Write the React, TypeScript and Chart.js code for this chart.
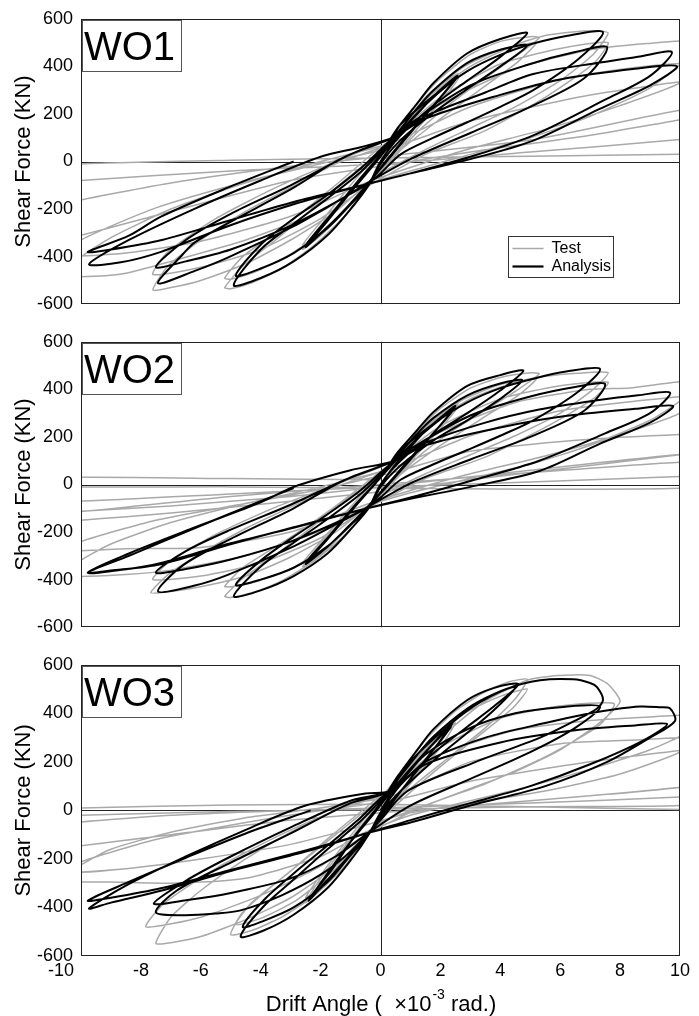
import React, { useEffect, useRef } from "react";
import { Chart, registerables } from "chart.js";

Chart.register(...registerables);

type Pt = [number, number];

const xTicks = [-10, -8, -6, -4, -2, 0, 2, 4, 6, 8, 10];
const yTicks = [-600, -400, -200, 0, 200, 400, 600];
const panelLabels = ["WO1", "WO2", "WO3"];
const seriesNames = ["Test", "Analysis"];

const wo1Analysis: Pt[] = [
  [0, 0], [0.6, 110], [1.3, 210], [1.9, 290], [2.57, 360],
  [1.9, 255], [1.1, 140], [0.3, 20], [-0.4, -90], [-1.1, -190], [-1.8, -280], [-2.5, -360],
  [-1.8, -255], [-1.0, -130], [-0.2, -10], [0.5, 100], [1.2, 200], [1.9, 285], [2.5, 345],
  [1.8, 240], [1.0, 120], [0.2, 0], [-0.5, -105], [-1.2, -205], [-1.9, -290], [-2.45, -345],
  [-1.7, -230], [-0.8, -90], [0.0, 30],
  [0.57, 140], [1.2, 240], [1.77, 330], [2.9, 455], [4.0, 515], [4.9, 540],
  [4.0, 440], [2.9, 340], [1.77, 236], [0.67, 110], [0.0, 0], [-0.4, -100],
  [-0.9, -185], [-1.77, -310], [-2.9, -420], [-4.0, -490], [-4.9, -520],
  [-4.0, -370], [-2.9, -262], [-1.77, -155], [-0.67, -45], [0.0, 40], [0.5, 110],
  [1.2, 220], [1.77, 300], [2.9, 415], [4.0, 470], [4.9, 488],
  [4.0, 400], [2.9, 305], [1.77, 205], [0.67, 90], [0.0, -10], [-0.4, -100],
  [-1.0, -180], [-1.77, -280], [-2.9, -385], [-4.0, -450], [-4.83, -480],
  [-4.0, -350], [-2.9, -240], [-1.77, -140], [-0.67, -30], [0.0, 50], [0.4, 100],
  [0.67, 156], [1.77, 276], [2.9, 380], [4.0, 448], [5.1, 496], [6.2, 528], [7.43, 544],
  [6.6, 430], [5.1, 300], [4.0, 230], [2.9, 165], [1.77, 100], [0.67, 30], [0.0, -50], [-0.5, -100],
  [-1.23, -152], [-2.9, -272], [-5.1, -404], [-6.2, -460], [-7.43, -512],
  [-6.6, -390], [-6.2, -340], [-5.1, -260], [-2.9, -110], [-1.5, 0], [-0.67, 48], [0.4, 100],
  [1.0, 160], [3.0, 320], [5.0, 410], [6.5, 460], [7.57, 480],
  [6.8, 350], [5.0, 230], [3.0, 120], [1.0, 10], [-0.5, -95],
  [-1.2, -150], [-3.0, -270], [-5.0, -370], [-6.5, -420], [-7.5, -444],
  [-6.5, -330], [-5.0, -220], [-3.0, -100], [-1.0, 30], [0.4, 100],
  [1.5, 190], [3.5, 290], [5.1, 368], [7.33, 416], [8.6, 440], [9.73, 460],
  [9.0, 360], [7.5, 260], [5.1, 110], [3.0, 20], [1.0, -50], [-0.6, -100],
  [-2.9, -180], [-5.1, -272], [-7.33, -380], [-8.67, -424], [-9.73, -432],
  [-8.4, -330], [-6.23, -200], [-4.0, -80], [-2.0, 20], [-0.67, 60], [0.4, 100],
  [1.5, 180], [4.0, 280], [6.0, 345], [8.5, 390], [9.9, 400],
  [9.0, 320], [7.3, 220], [5.1, 88], [3.0, 10], [1.0, -50], [-0.6, -100],
  [-2.9, -170], [-5.1, -250], [-7.3, -330], [-9.0, -370], [-9.77, -380],
  [-8.4, -312], [-7.33, -232], [-5.1, -110], [-2.9, 0],
];

const wo1Test: Pt[] = [
  [0, 0], [0.6, 120], [1.3, 230], [2.0, 320], [2.6, 370],
  [2.0, 270], [1.2, 150], [0.3, 20], [-0.4, -100], [-1.2, -210], [-1.9, -300], [-2.6, -370],
  [-2.0, -270], [-1.2, -150], [-0.3, -10], [0.5, 110], [1.3, 220], [2.0, 300], [2.6, 350],
  [2.0, 250], [1.1, 120], [0.2, -10], [-0.5, -115], [-1.3, -220], [-2.0, -300], [-2.6, -350],
  [-1.9, -240], [-1.0, -100], [-0.2, 20], [0.5, 120],
  [1.2, 240], [2.0, 350], [3.0, 450], [4.0, 505], [5.0, 525], [5.3, 520],
  [4.6, 450], [3.6, 360], [2.4, 250], [1.2, 120], [0.2, -20], [-0.5, -120],
  [-1.2, -230], [-2.2, -350], [-3.3, -450], [-4.3, -510], [-5.0, -535], [-5.2, -530],
  [-4.6, -440], [-3.5, -330], [-2.3, -200], [-1.1, -70], [0, 40], [0.5, 110],
  [1.5, 270], [2.8, 400], [4.0, 470], [4.9, 495], [5.2, 498],
  [4.6, 420], [3.3, 300], [1.9, 170], [0.6, 40], [-0.5, -110],
  [-1.5, -250], [-3.0, -390], [-4.2, -465], [-5.0, -495], [-5.2, -490],
  [-4.6, -400], [-3.1, -260], [-1.6, -110], [-0.2, 40], [0.5, 110],
  [1.5, 260], [3.0, 400], [4.5, 490], [5.5, 530], [6.4, 545], [7.1, 550], [7.6, 540],
  [7.1, 450], [6.0, 340], [4.5, 230], [3.0, 140], [1.5, 50], [0.0, -50], [-0.6, -110],
  [-1.5, -210], [-3.0, -330], [-4.5, -430], [-6.0, -500], [-7.0, -530], [-7.6, -540],
  [-7.1, -440], [-6.0, -330], [-4.5, -210], [-3.0, -110], [-1.5, -10], [0.0, 60], [0.5, 110],
  [2.0, 270], [4.0, 410], [6.0, 475], [7.6, 500],
  [7.1, 410], [5.5, 270], [3.5, 130], [1.5, 30], [-0.5, -110],
  [-2.0, -240], [-4.0, -370], [-6.0, -445], [-7.6, -475],
  [-7.1, -380], [-5.5, -240], [-3.5, -110], [-1.5, 0], [0.4, 100],
  [2.0, 240], [4.5, 390], [7.0, 470], [8.9, 496], [10.5, 505],
  [10.2, 430], [9.0, 310], [7.0, 190], [5.0, 100], [3.0, 30], [1.0, -40], [-0.5, -100],
  [-2.0, -210], [-4.5, -330], [-7.0, -420], [-8.5, -470], [-9.5, -482], [-10.5, -480],
  [-10.2, -420], [-9.0, -320], [-7.0, -200], [-4.5, -90], [-2.0, 0], [0.4, 80],
  [3.0, 230], [6.0, 345], [8.5, 395], [10.5, 410],
  [10.0, 330], [8.0, 235], [5.5, 135], [3.0, 55], [1.0, -25], [-0.5, -90],
  [-3.0, -230], [-6.0, -335], [-8.5, -385], [-10.5, -395],
  [-10.0, -330], [-7.5, -195], [-4.5, -85], [-2.0, -10], [0.4, 60],
  [3.0, 170], [7.0, 280], [11.0, 350], [15.0, 380],
  [14.0, 290], [11.0, 200], [7.0, 110], [3.0, 40], [0.0, -20], [-3.0, -80],
  [-7.0, -210], [-11.0, -340], [-15.0, -400],
  [-14.0, -320], [-11.0, -190], [-7.0, -90], [-3.0, -20], [0.0, 20],
  [5.0, 90], [10.0, 216], [15.0, 300], [20.0, 320],
  [19.0, 240], [15.0, 160], [10.0, 92], [5.0, 40], [0.0, -10], [-5.0, -40], [-10.0, -80], [-15.0, -130], [-20.0, -170],
  [-19.0, -110], [-15.0, -50], [-10.0, -10], [-5.0, 5], [0.0, 15], [5.0, 22], [10.0, 30], [20.0, 50],
];

const wo2Analysis: Pt[] = [
  [0, 0], [0.6, 100], [1.3, 200], [1.9, 270], [2.5, 330],
  [1.9, 235], [1.1, 125], [0.3, 10], [-0.4, -90], [-1.1, -180], [-1.8, -265], [-2.5, -334],
  [-1.8, -235], [-1.0, -115], [-0.2, 0], [0.5, 100], [1.2, 190], [1.9, 265], [2.45, 318],
  [1.8, 220], [1.0, 105], [0.2, -10], [-0.5, -105], [-1.2, -195], [-1.9, -275], [-2.45, -322],
  [-1.7, -215], [-0.8, -80], [0.0, 30],
  [0.57, 135], [1.2, 225], [1.77, 305], [2.9, 415], [4.0, 460], [4.77, 478],
  [4.0, 395], [2.9, 300], [1.77, 210], [0.67, 100], [0.0, 0], [-0.4, -100],
  [-0.9, -175], [-1.77, -290], [-2.9, -385], [-4.0, -445], [-4.9, -470],
  [-4.0, -345], [-2.9, -245], [-1.77, -145], [-0.67, -40], [0.0, 40], [0.5, 110],
  [1.2, 210], [1.77, 280], [2.9, 375], [4.0, 425], [4.73, 438],
  [4.0, 360], [2.9, 270], [1.77, 185], [0.67, 80], [0.0, -10], [-0.4, -100],
  [-1.0, -170], [-1.77, -260], [-2.9, -350], [-4.0, -400], [-4.83, -422],
  [-4.0, -320], [-2.9, -220], [-1.77, -125], [-0.67, -25], [0.0, 50], [0.43, 98],
  [0.67, 145], [1.77, 255], [2.9, 345], [4.0, 405], [5.1, 445], [6.2, 475], [7.33, 486],
  [6.6, 390], [5.1, 270], [4.0, 205], [2.9, 145], [1.77, 85], [0.67, 20], [0.0, -55], [-0.5, -100],
  [-1.23, -150], [-2.9, -260], [-5.1, -380], [-6.2, -425], [-7.43, -450],
  [-6.6, -340], [-5.1, -235], [-2.9, -100], [-1.5, 0], [-0.67, 45], [0.43, 98],
  [1.0, 150], [3.0, 290], [5.0, 370], [6.5, 410], [7.5, 422],
  [6.8, 310], [5.0, 200], [3.0, 105], [1.0, 5], [-0.5, -100],
  [-1.2, -145], [-3.0, -240], [-5.0, -315], [-6.5, -355], [-7.5, -370],
  [-6.5, -280], [-5.0, -190], [-3.0, -85], [-1.0, 30], [0.43, 98],
  [1.5, 175], [3.5, 260], [5.3, 315], [7.3, 355], [8.6, 375], [9.67, 386],
  [9.0, 300], [7.5, 215], [5.3, 100], [3.0, 15], [1.0, -55], [-0.6, -105],
  [-2.9, -182], [-5.1, -250], [-7.33, -330], [-8.7, -360], [-9.77, -370],
  [-8.4, -290], [-6.23, -182], [-4.0, -75], [-2.9, -10], [-1.0, 60], [0.43, 98],
  [1.5, 165], [4.0, 240], [6.0, 285], [8.5, 318], [9.77, 330],
  [9.0, 260], [7.3, 170], [5.33, 58], [3.0, -10], [1.0, -60], [-0.6, -105],
  [-2.9, -180], [-5.1, -255], [-7.33, -335], [-9.0, -362], [-9.77, -370],
  [-8.4, -300], [-6.23, -185], [-4.0, -70], [-2.9, -15],
];

const wo2Test: Pt[] = [
  [0, 0], [0.6, 110], [1.3, 215], [2.0, 300], [2.6, 345],
  [2.0, 250], [1.2, 135], [0.3, 10], [-0.4, -95], [-1.2, -200], [-1.9, -285], [-2.6, -345],
  [-2.0, -250], [-1.2, -135], [-0.3, -5], [0.5, 105], [1.3, 205], [2.0, 285], [2.6, 330],
  [2.0, 235], [1.1, 110], [0.2, -15], [-0.5, -110], [-1.3, -210], [-2.0, -285], [-2.6, -330],
  [-1.9, -225], [-1.0, -95], [-0.2, 20], [0.5, 110],
  [1.2, 220], [2.0, 320], [3.0, 405], [4.0, 450], [5.0, 470], [5.3, 465],
  [4.6, 400], [3.6, 320], [2.4, 225], [1.2, 110], [0.2, -20], [-0.5, -115],
  [-1.2, -215], [-2.2, -320], [-3.3, -405], [-4.3, -455], [-5.0, -475], [-5.2, -470],
  [-4.6, -395], [-3.5, -295], [-2.3, -180], [-1.1, -60], [0, 40], [0.5, 105],
  [1.5, 245], [2.8, 360], [4.0, 420], [4.9, 440], [5.2, 442],
  [4.6, 375], [3.3, 270], [1.9, 155], [0.6, 35], [-0.5, -105],
  [-1.5, -235], [-3.0, -355], [-4.2, -410], [-5.0, -430], [-5.2, -428],
  [-4.6, -350], [-3.1, -230], [-1.6, -100], [-0.2, 35], [0.5, 105],
  [1.5, 240], [3.0, 360], [4.5, 430], [5.5, 455], [6.6, 468], [7.6, 470],
  [7.1, 400], [6.0, 300], [4.5, 205], [3.0, 125], [1.5, 45], [0.0, -50], [-0.6, -110],
  [-1.5, -200], [-3.0, -305], [-4.5, -385], [-6.0, -430], [-7.0, -450], [-7.67, -455],
  [-7.1, -380], [-6.0, -290], [-4.5, -185], [-3.0, -95], [-1.5, -10], [0.0, 55], [0.5, 105],
  [2.0, 245], [4.0, 360], [6.0, 415], [7.6, 430],
  [7.1, 360], [5.5, 240], [3.5, 115], [1.5, 25], [-0.5, -105],
  [-2.0, -225], [-4.0, -330], [-6.0, -385], [-7.6, -400],
  [-7.1, -330], [-5.5, -210], [-3.5, -95], [-1.5, 0], [0.4, 95],
  [2.0, 220], [4.5, 345], [7.0, 400], [8.33, 406], [10.5, 435],
  [10.2, 370], [9.0, 270], [7.0, 165], [5.0, 85], [3.0, 25], [1.0, -35], [-0.5, -95],
  [-2.0, -195], [-4.5, -300], [-7.0, -360], [-8.5, -378], [-10.5, -385],
  [-10.2, -334], [-9.0, -250], [-7.0, -160], [-4.5, -80], [-2.0, -10], [0.4, 70],
  [3.0, 205], [6.0, 310], [8.5, 350], [10.5, 370],
  [10.0, 300], [8.0, 210], [5.5, 120], [3.0, 45], [1.0, -25], [-0.5, -85],
  [-3.0, -200], [-6.0, -265], [-8.5, -270], [-10.5, -278],
  [-10.0, -240], [-7.5, -150], [-4.5, -80], [-2.0, -20], [0.4, 50],
  [3.0, 140], [7.0, 190], [11.0, 215], [15.0, 230],
  [14.0, 180], [11.0, 140], [7.0, 80], [3.0, 20], [0.0, -30], [-3.0, -70],
  [-7.0, -120], [-11.0, -158], [-15.0, -180],
  [-14.0, -140], [-11.0, -120], [-7.0, -90], [-3.0, -50], [0.0, -10],
  [5.0, 60], [10.0, 126], [15.0, 160], [20.0, 170],
  [19.0, 130], [15.0, 110], [10.0, 94], [5.0, 50], [0.0, 0], [-5.0, -50], [-10.0, -114], [-15.0, -150], [-20.0, -170],
  [-19.0, -110], [-15.0, -80], [-10.0, -70], [-5.0, -40], [0.0, -10], [5.0, 10], [10.0, 34], [20.0, 60],
  [15.0, 20], [10.0, -16], [5.0, -20], [0.0, -15], [-5.0, -10], [-10.0, -10], [-15.0, 10], [-10.0, 30], [-5.0, 25], [0.0, 20],
];

const wo3Analysis: Pt[] = [
  [0, 0], [0.6, 110], [1.3, 210], [1.9, 295], [2.4, 360],
  [1.8, 255], [1.0, 130], [0.3, 20], [-0.4, -95], [-1.1, -195], [-1.8, -290], [-2.4, -372],
  [-1.8, -265], [-1.0, -130], [-0.2, -10], [0.5, 100], [1.2, 200], [1.8, 280], [2.35, 345],
  [1.7, 240], [0.9, 115], [0.2, 0], [-0.5, -110], [-1.2, -210], [-1.8, -295], [-2.35, -360],
  [-1.6, -240], [-0.8, -95], [0.0, 30],
  [0.57, 140], [1.2, 245], [1.77, 335], [2.9, 455], [3.8, 505], [4.6, 520],
  [3.8, 430], [2.9, 345], [1.77, 236], [0.67, 105], [0.0, -10], [-0.4, -100],
  [-0.9, -190], [-1.77, -320], [-2.9, -430], [-3.9, -495], [-4.67, -520],
  [-3.9, -395], [-2.9, -285], [-1.77, -160], [-0.67, -45], [0.0, 40], [0.4, 100],
  [1.2, 225], [1.77, 305], [2.9, 420], [3.8, 480], [4.5, 508],
  [3.8, 415], [2.9, 320], [1.77, 205], [0.67, 80], [0.0, -15], [-0.4, -100],
  [-1.0, -185], [-1.77, -295], [-2.9, -400], [-3.9, -455], [-4.6, -480],
  [-3.9, -370], [-2.9, -260], [-1.77, -145], [-0.67, -30], [0.0, 50], [0.33, 80],
  [0.9, 188], [2.0, 320], [3.1, 428], [4.2, 500], [5.33, 536], [6.43, 540], [7.0, 525], [7.23, 508], [7.43, 456], [7.23, 420],
  [6.5, 370], [5.33, 300], [3.1, 196], [0.9, 80], [0.0, -40], [-0.4, -92],
  [-1.0, -170], [-2.0, -265], [-3.3, -350], [-4.67, -412], [-5.5, -425], [-6.57, -432], [-7.5, -420],
  [-6.8, -330], [-5.0, -215], [-3.0, -95], [-1.0, 30], [0.33, 80],
  [1.5, 230], [3.0, 340], [4.5, 400], [6.0, 425], [7.33, 428],
  [6.5, 340], [5.0, 240], [3.0, 130], [1.0, 20], [-0.4, -92],
  [-1.5, -190], [-3.0, -280], [-5.0, -340], [-6.5, -370], [-7.57, -384],
  [-6.5, -290], [-5.0, -190], [-3.0, -70], [-1.0, 40], [0.33, 80],
  [1.5, 200], [3.5, 300], [5.5, 360], [7.0, 400], [7.77, 416], [8.67, 428], [9.3, 425], [9.67, 420], [9.83, 368],
  [9.0, 300], [7.57, 200], [5.5, 100], [3.0, 20], [1.0, -50], [-0.4, -92],
  [-2.5, -170], [-5.0, -250], [-7.3, -330], [-9.0, -380], [-9.73, -404],
  [-8.5, -310], [-6.5, -190], [-4.5, -80], [-2.5, 20], [-0.5, 70], [0.33, 80],
  [1.5, 190], [4.0, 280], [6.5, 330], [8.5, 350], [9.57, 356],
  [8.8, 290], [7.0, 190], [5.0, 100], [3.0, 30], [1.0, -40], [-0.4, -92],
  [-2.5, -165], [-5.0, -245], [-7.3, -320], [-9.0, -360], [-9.77, -372],
  [-8.5, -300], [-6.5, -195], [-4.5, -95], [-2.33, 0],
];

const wo3Test: Pt[] = [
  [0, 0], [0.6, 125], [1.3, 240], [2.0, 330], [2.5, 380],
  [2.0, 280], [1.2, 150], [0.3, 15], [-0.4, -100], [-1.2, -215], [-1.9, -310], [-2.5, -380],
  [-2.0, -280], [-1.2, -150], [-0.3, -10], [0.5, 110], [1.3, 225], [2.0, 310], [2.5, 360],
  [2.0, 260], [1.1, 125], [0.2, -10], [-0.5, -115], [-1.3, -225], [-2.0, -310], [-2.5, -360],
  [-1.9, -250], [-1.0, -105], [-0.2, 20], [0.6, 140],
  [1.5, 290], [2.5, 410], [3.5, 490], [4.3, 530], [4.9, 540],
  [4.5, 460], [3.5, 340], [2.3, 220], [1.0, 90], [0.0, -30], [-0.5, -110],
  [-1.2, -230], [-2.2, -350], [-3.3, -440], [-4.3, -495], [-5.0, -512],
  [-4.6, -420], [-3.5, -300], [-2.2, -170], [-1.0, -50], [0.0, 50], [0.5, 110],
  [1.5, 260], [2.8, 400], [4.0, 470], [4.9, 500],
  [4.4, 420], [3.2, 300], [1.8, 160], [0.5, 20], [-0.5, -105],
  [-1.5, -240], [-2.8, -370], [-4.0, -445], [-4.83, -470],
  [-4.3, -380], [-3.0, -250], [-1.6, -100], [-0.2, 40], [0.5, 110],
  [2.0, 300], [3.5, 450], [4.9, 536], [5.9, 556], [7.0, 556], [7.6, 520], [8.0, 448],
  [7.3, 360], [6.0, 250], [4.5, 160], [3.0, 90], [1.5, 20], [0.0, -50], [-0.6, -110],
  [-1.5, -230], [-3.0, -360], [-4.5, -450], [-6.0, -520], [-7.0, -545], [-7.5, -548],
  [-7.0, -440], [-6.0, -330], [-4.5, -200], [-3.0, -90], [-1.5, 0], [0.0, 60], [0.5, 110],
  [2.0, 260], [4.0, 380], [6.0, 430], [7.8, 440],
  [7.3, 350], [5.5, 220], [3.5, 110], [1.5, 20], [-0.5, -100],
  [-2.0, -230], [-4.0, -350], [-6.0, -440], [-7.83, -480],
  [-7.2, -380], [-5.5, -240], [-3.5, -110], [-1.5, 0], [0.4, 90],
  [2.0, 230], [4.5, 330], [7.0, 370], [9.0, 385], [10.5, 390],
  [10.2, 320], [9.0, 250], [7.0, 170], [5.0, 100], [3.0, 40], [1.0, -20], [-0.5, -90],
  [-2.0, -190], [-4.5, -280], [-7.0, -300], [-9.0, -295], [-10.5, -290],
  [-10.2, -240], [-9.0, -160], [-7.0, -90], [-4.5, -30], [-2.0, 10], [0.4, 60],
  [3.0, 200], [6.0, 275], [8.5, 290], [10.5, 298],
  [10.0, 240], [8.0, 150], [5.5, 80], [3.0, 30], [1.0, -10], [-0.5, -60],
  [-3.0, -140], [-6.0, -200], [-8.5, -240], [-10.5, -255],
  [-10.0, -212], [-7.5, -120], [-4.5, -50], [-2.0, 0], [0.4, 40],
  [3.0, 120], [7.0, 200], [11.0, 260], [15.0, 280],
  [14.0, 200], [11.0, 110], [7.0, 60], [3.0, 20], [0.0, -10], [-3.0, -40], [-7.0, -100], [-11.0, -160], [-15.0, -200],
  [-14.0, -130], [-11.0, -60], [-7.0, -20], [-3.0, 0], [0.0, 10], [5.0, 30], [10.0, 55], [15.0, 80],
  [20.0, 100], [15.0, 70], [10.0, 20], [5.0, 15], [0.0, 5], [-5.0, -5], [-10.0, -20], [-15.0, -40], [-20.0, -50],
  [-15.0, -10], [-10.0, 10], [-5.0, 22], [0.0, 25], [5.0, 15], [10.0, 4], [20.0, 5],
];

const panelAnalysis: Pt[][] = [wo1Analysis, wo2Analysis, wo3Analysis];
const panelTest: Pt[][] = [wo1Test, wo2Test, wo3Test];

const FONT = '"Liberation Sans", Arial, Helvetica, sans-serif';
const GRAY = "#a9a9a9";

const decorPlugin = {
  id: "decor",
  beforeDatasetsDraw(chart: any) {
    const { ctx, chartArea: a, scales } = chart;
    const x0 = Math.round(scales.x.getPixelForValue(0)) + 0.5;
    const y0 = Math.round(scales.y.getPixelForValue(0)) + 0.5;
    ctx.save();
    ctx.strokeStyle = "#222";
    ctx.lineWidth = 1;
    ctx.beginPath();
    ctx.moveTo(x0, a.top);
    ctx.lineTo(x0, a.bottom);
    ctx.moveTo(a.left, y0);
    ctx.lineTo(a.right, y0);
    ctx.stroke();
    ctx.restore();
  },
  afterDatasetsDraw(chart: any, _args: any, opts: any) {
    const { ctx, chartArea: a, scales } = chart;
    ctx.save();
    ctx.strokeStyle = "#222";
    ctx.lineWidth = 1;
    const L = Math.round(a.left) + 0.5;
    const T = Math.round(a.top) + 0.5;
    const R = Math.round(a.right) - 0.5;
    const B = Math.round(a.bottom) - 0.5;
    ctx.strokeRect(L, T, R - L, B - T);

    ctx.fillStyle = "#fff";
    ctx.fillRect(L + 1, T + 1, 99, 51);
    ctx.strokeStyle = "#555";
    ctx.strokeRect(L + 1, T + 1, 99, 51);
    ctx.fillStyle = "#000";
    ctx.font = `40px ${FONT}`;
    ctx.textAlign = "left";
    ctx.textBaseline = "alphabetic";
    ctx.fillText(opts.label, a.left + 3, a.top + 41);

    if (opts.legend) {
      const lx = L + 427;
      const ly = T + 217;
      ctx.fillStyle = "#fff";
      ctx.fillRect(lx, ly, 105, 41);
      ctx.strokeStyle = "#333";
      ctx.strokeRect(lx, ly, 105, 41);
      ctx.lineWidth = 1.5;
      ctx.strokeStyle = GRAY;
      ctx.beginPath();
      ctx.moveTo(lx + 4, ly + 12);
      ctx.lineTo(lx + 35, ly + 12);
      ctx.stroke();
      ctx.lineWidth = 2.2;
      ctx.strokeStyle = "#000";
      ctx.beginPath();
      ctx.moveTo(lx + 4, ly + 30);
      ctx.lineTo(lx + 35, ly + 30);
      ctx.stroke();
      ctx.fillStyle = "#000";
      ctx.font = `16px ${FONT}`;
      ctx.textBaseline = "middle";
      ctx.fillText(seriesNames[0], lx + 43, ly + 12);
      ctx.fillText(seriesNames[1], lx + 43, ly + 30);
    }

    if (opts.xAxis) {
      ctx.fillStyle = "#000";
      ctx.font = `18px ${FONT}`;
      ctx.textBaseline = "middle";
      xTicks.forEach((v, i) => {
        const px = scales.x.getPixelForValue(v);
        if (i === 0) {
          ctx.textAlign = "right";
          ctx.fillText(String(v), px - 7, a.bottom + 15);
        } else {
          ctx.textAlign = "center";
          ctx.fillText(String(v), px, a.bottom + 15);
        }
      });
      const p1 = "Drift Angle (  \u00d710";
      const sup = "-3";
      const p2 = " rad.)";
      ctx.textAlign = "left";
      ctx.textBaseline = "alphabetic";
      ctx.font = `22px ${FONT}`;
      const w1 = ctx.measureText(p1).width;
      const w2 = ctx.measureText(p2).width;
      ctx.font = `14px ${FONT}`;
      const ws = ctx.measureText(sup).width;
      const cx = (a.left + a.right) / 2;
      const base = a.bottom + 55;
      let sx = cx - (w1 + ws + w2) / 2;
      ctx.font = `22px ${FONT}`;
      ctx.fillText(p1, sx, base);
      sx += w1;
      ctx.font = `14px ${FONT}`;
      ctx.fillText(sup, sx + 1, base - 12);
      sx += ws + 1;
      ctx.font = `22px ${FONT}`;
      ctx.fillText(p2, sx, base);
    }
    ctx.restore();
  },
};

type PanelProps = { index: number; top: number; height: number; padBottom: number };

function Panel({ index, top, height, padBottom }: PanelProps) {
  const ref = useRef<HTMLCanvasElement | null>(null);
  useEffect(() => {
    if (!ref.current) return;
    const chart = new Chart(ref.current, {
      type: "scatter",
      data: {
        datasets: [
          {
            label: seriesNames[1],
            data: panelAnalysis[index],
            showLine: true,
            borderColor: "#000",
            borderWidth: 2,
            pointRadius: 0,
            tension: 0.3,
            fill: false,
          },
          {
            label: seriesNames[0],
            data: panelTest[index],
            showLine: true,
            borderColor: GRAY,
            borderWidth: 1.5,
            pointRadius: 0,
            tension: 0.2,
            fill: false,
          },
        ],
      } as any,
      options: {
        animation: false,
        responsive: false,
        devicePixelRatio: 1,
        events: [],
        layout: { padding: { left: 0, right: 19, top: 12, bottom: padBottom } },
        elements: { line: { capBezierPoints: false } },
        scales: {
          x: { type: "linear", min: -10, max: 10, display: false },
          y: {
            type: "linear",
            min: yTicks[0],
            max: yTicks[yTicks.length - 1],
            afterFit: (s: any) => {
              s.width = 81;
            },
            afterBuildTicks: (s: any) => {
              s.ticks = yTicks.map((v) => ({ value: v }));
            },
            grid: { display: false, drawTicks: false },
            border: { display: false },
            ticks: {
              padding: 8,
              color: "#000",
              font: { family: FONT, size: 18 },
              callback: (v: any) => String(v),
            },
            title: {
              display: true,
              text: "Shear Force (KN)",
              color: "#000",
              font: { family: FONT, size: 22 },
              padding: { top: 11, bottom: 0 },
            },
          },
        },
        plugins: {
          legend: { display: false },
          tooltip: { enabled: false },
          decor: { label: panelLabels[index], legend: index === 0, xAxis: index === 2 },
        } as any,
      } as any,
      plugins: [decorPlugin],
    });
    return () => chart.destroy();
  }, [index]);
  return (
    <canvas
      ref={ref}
      width={699}
      height={height}
      style={{ position: "absolute", left: 0, top, width: 699, height }}
    />
  );
}

export default function App() {
  return (
    <div style={{ position: "absolute", left: 0, top: 0, width: 699, height: 1016, background: "#fff" }}>
      <Panel index={0} top={0} height={323} padBottom={12} />
      <Panel index={1} top={323} height={323} padBottom={12} />
      <Panel index={2} top={646} height={370} padBottom={60} />
    </div>
  );
}
